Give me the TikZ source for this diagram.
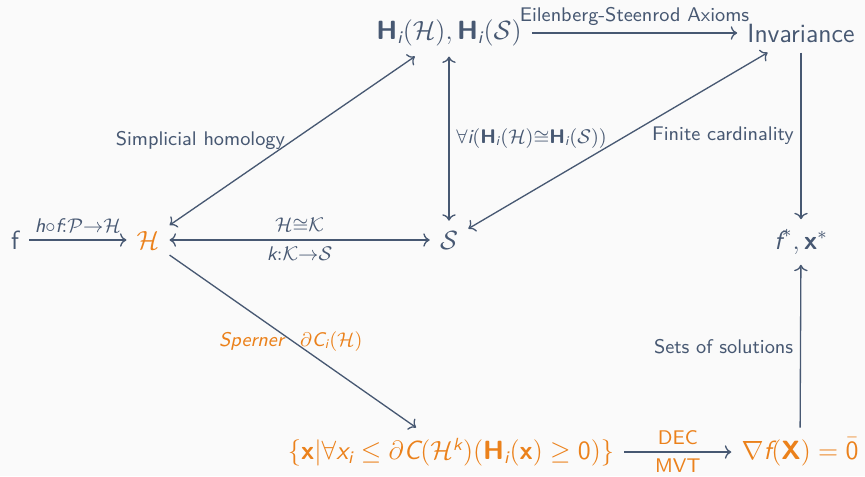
\documentclass[tikz,border=0pt]{standalone}
\usepackage{amsmath,amssymb}
\usepackage{xcolor}
\usetikzlibrary{arrows.meta}
\renewcommand{\familydefault}{\sfdefault}
\definecolor{slate}{HTML}{475872}
\definecolor{alertorange}{HTML}{EB811B}
\definecolor{slidebg}{HTML}{FAFAFA}
% sans letters in math
\newcommand{\sit}[1]{\text{\itshape #1}}
\newcommand{\sbf}[1]{\text{\bfseries #1}}

\begin{document}
\begin{tikzpicture}[
		x=0.016cm, y=-0.016cm,
		>=To,
		% Node styles
		obj/.style={font=\large, inner sep=4.5pt, text=slate},
		hot/.style={obj, text=alertorange},
		arr/.style={->, line width=0.6pt, slate},
		darr/.style={<->, line width=0.6pt, slate},
		lbl/.style={font=\small, inner sep=3pt, text=slate},
		hotlbl/.style={lbl, text=alertorange}
		]
		
		% Background
		\fill[slidebg] (0,0) rectangle (865,476);
		\useasboundingbox (0,0) rectangle (865,476);
		
		%% ─── OBJECTS ─────────────────────────────────────────────
		\node[obj] (f)   at (15,240)  {f};
		\node[hot] (hc)  at (148,240) {$\mathcal{H}$};
		\node[obj] (sc)  at (449,240) {$\mathcal{S}$};
		\node[obj] (hom) at (449,33)
		{$\sbf{H}_{\sit{i}}(\mathcal{H}),\sbf{H}_{\sit{i}}(\mathcal{S})$};
		\node[obj] (inv) at (801,33)  {Invariance};
		\node[obj] (opt) at (801,242) {$\sit{f}^*,\sbf{x}^*$};
		\node[hot] (sol) at (451,452)
		{$\{\sbf{x}|\forall\sit{x}_{\sit{i}}\leq\partial\sit{C}(\mathcal{H}^{\sit{k}})(\sbf{H}_{\sit{i}}(\sbf{x})\geq\text{0})\}$};
		\node[hot] (grad) at (800,452) {$\nabla\sit{f}(\sbf{X})=\bar{\text{0}}$};
		
		%% ─── CONNECTORS ──────────────────────────────────────────
		\draw[arr] (f) -- (hc)
		node[lbl, midway, above] {$\sit{h}{\circ}\sit{f}{:}\mathcal{P}{\to}\mathcal{H}$};
		\draw[darr] (hc) -- (sc)
		node[lbl, midway, above] {$\mathcal{H}{\cong}\mathcal{K}$}
		node[lbl, midway, below] {$\sit{k}{:}\mathcal{K}{\to}\mathcal{S}$};
		\draw[darr] (hc) -- (hom) node[lbl, midway, left] {Simplicial homology};
		\draw[darr] (sc) -- (hom)
		node[lbl, midway, right]
		{$\forall\sit{i}(\sbf{H}_{\sit{i}}(\mathcal{H}){\cong}\sbf{H}_{\sit{i}}(\mathcal{S}))$};
		\draw[darr] (sc) -- (inv);
		\draw[arr] (hom) -- (inv) node[lbl, midway, above] {Eilenberg-Steenrod Axioms};
		\draw[arr] (inv) -- (opt) node[lbl, midway, left] {Finite cardinality};
		\draw[arr] (hc) -- (sol)
		node[hotlbl, midway, left] {\textit{Sperner}}
		node[hotlbl, midway, right] {$\partial\sit{C}_{\sit{i}}(\mathcal{H})$};
		\draw[arr] (sol) -- (grad)
		node[hotlbl, midway, above] {DEC}
		node[hotlbl, midway, below] {MVT};
		\draw[arr] (grad) -- (opt) node[lbl, midway, left] {Sets of solutions};
		
\end{tikzpicture}
\end{document}
